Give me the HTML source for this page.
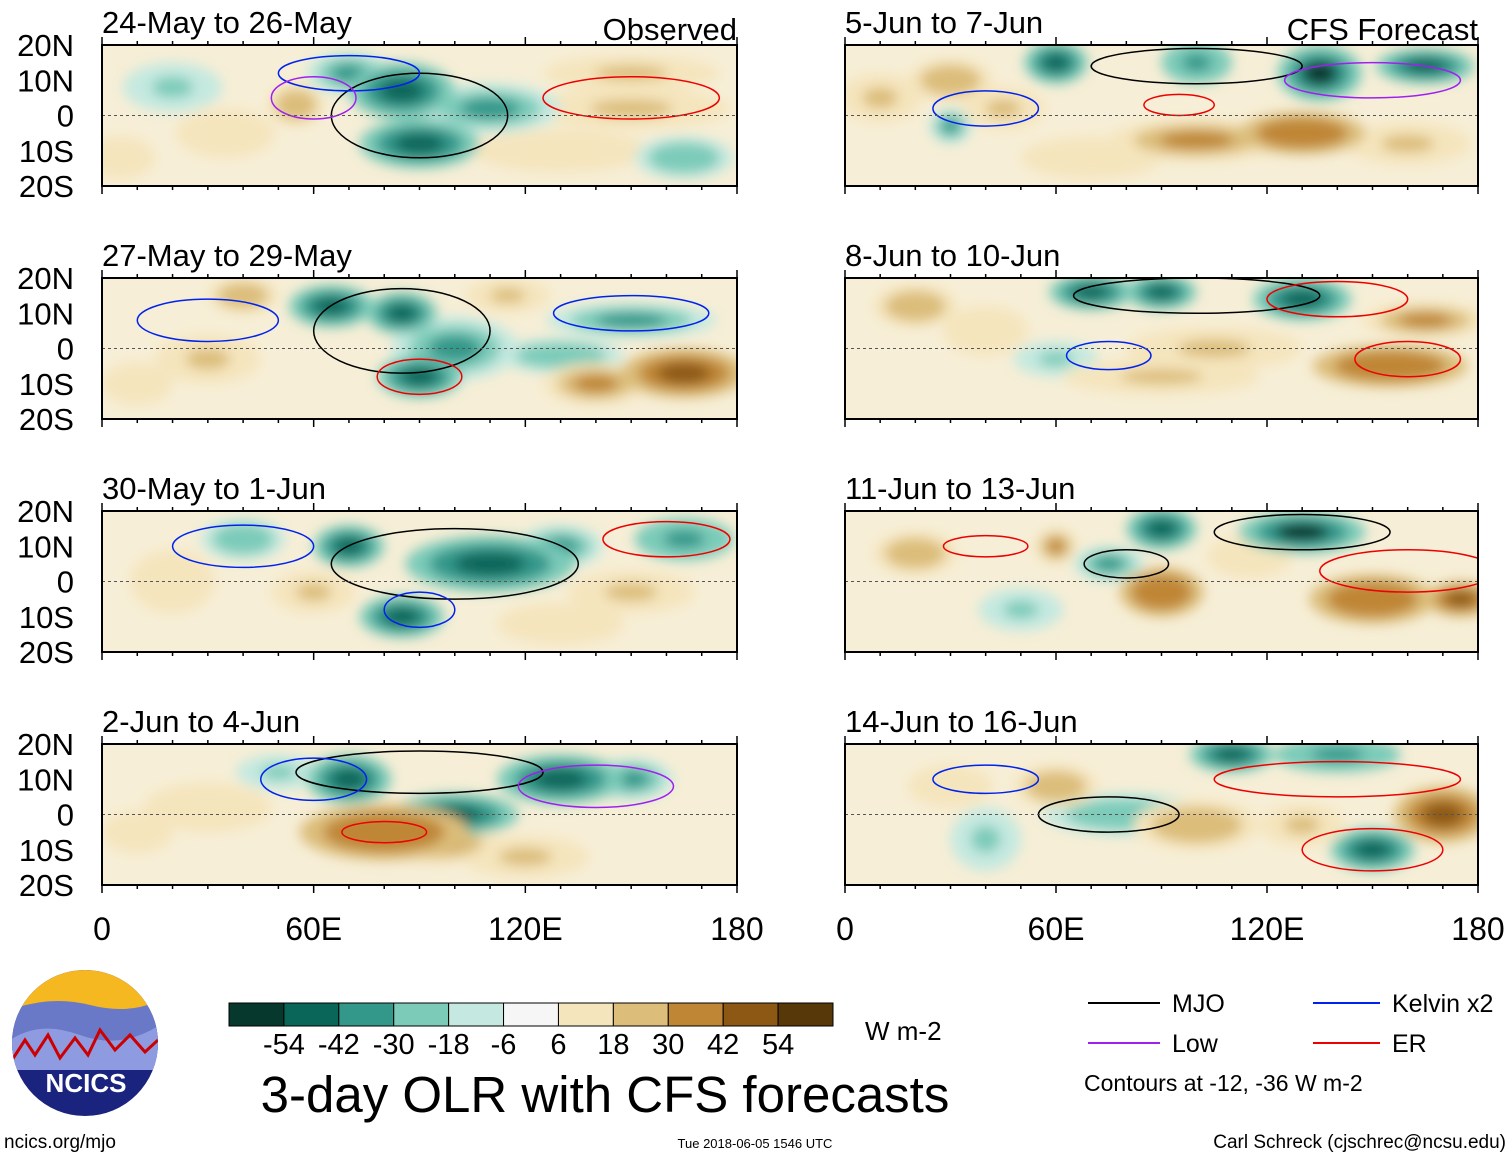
<!DOCTYPE html>
<html><head><meta charset="utf-8">
<style>
body{margin:0;background:#fff;width:1510px;height:1158px;overflow:hidden;font-family:"Liberation Sans",sans-serif}
svg{display:block}
</style></head>
<body>
<svg id="fig" width="1510" height="1158" font-family="Liberation Sans, sans-serif">
<defs><filter id="blur"><feGaussianBlur stdDeviation="6"/></filter>
<clipPath id="c0"><rect x="102" y="45" width="635" height="141"/></clipPath>
<clipPath id="c1"><rect x="845" y="45" width="633" height="141"/></clipPath>
<clipPath id="c2"><rect x="102" y="278" width="635" height="141"/></clipPath>
<clipPath id="c3"><rect x="845" y="278" width="633" height="141"/></clipPath>
<clipPath id="c4"><rect x="102" y="511" width="635" height="141"/></clipPath>
<clipPath id="c5"><rect x="845" y="511" width="633" height="141"/></clipPath>
<clipPath id="c6"><rect x="102" y="744" width="635" height="141"/></clipPath>
<clipPath id="c7"><rect x="845" y="744" width="633" height="141"/></clipPath>
</defs>
<g id="panels"></g>
<g id="cbar"></g>
<g id="legend" font-size="25">
<line x1="1088" y1="1003" x2="1160" y2="1003" stroke="#000" stroke-width="2"/>
<text x="1172" y="1012">MJO</text>
<line x1="1313" y1="1003" x2="1380" y2="1003" stroke="#0022ee" stroke-width="2"/>
<text x="1392" y="1012">Kelvin x2</text>
<line x1="1088" y1="1043" x2="1160" y2="1043" stroke="#a020f0" stroke-width="2"/>
<text x="1172" y="1052">Low</text>
<line x1="1313" y1="1043" x2="1380" y2="1043" stroke="#ee0000" stroke-width="2"/>
<text x="1392" y="1052">ER</text>
<text x="1084" y="1091" font-size="23">Contours at -12, -36 W m-2</text>
</g>
<g>
<clipPath id="lc"><circle cx="85" cy="1043" r="73"/></clipPath>
<g clip-path="url(#lc)">
<rect x="10" y="968" width="150" height="150" fill="#1a237e"/>
<rect x="10" y="968" width="150" height="45" fill="#f5b820"/>
<path d="M10 1010 Q50 995 90 1005 T160 1000 L160 1060 L10 1060Z" fill="#6a78c8"/>
<path d="M10 1040 Q40 1020 80 1035 T160 1025 L160 1070 L10 1070Z" fill="#8e9be0"/>
<path d="M12 1060 L25 1040 L35 1055 L48 1035 L60 1058 L75 1038 L88 1055 L100 1030 L115 1050 L130 1035 L145 1052 L158 1040" fill="none" stroke="#c00" stroke-width="3"/>
</g>
<text x="86" y="1092" text-anchor="middle" fill="#fff" font-size="26" font-weight="bold">NCICS</text>
</g>
<text x="4" y="1148" font-size="19">ncics.org/mjo</text>
<text x="755" y="1148" font-size="13" text-anchor="middle">Tue 2018-06-05 1546 UTC</text>
<text x="1506" y="1148" font-size="19" text-anchor="end">Carl Schreck (cjschrec@ncsu.edu)</text>
<text x="605" y="1112" font-size="51" text-anchor="middle">3-day OLR with CFS forecasts</text>
<text x="865" y="1040" font-size="26">W m-2</text>
</svg>
<script>
const titles=["24-May to 26-May","5-Jun to 7-Jun","27-May to 29-May","8-Jun to 10-Jun","30-May to 1-Jun","11-Jun to 13-Jun","2-Jun to 4-Jun","14-Jun to 16-Jun"];
const cbLevels=["-54","-42","-30","-18","-6","6","18","30","42","54"];
const cbColors=["#07382e","#0b665a","#33978a","#7ccbb9","#c5e9e0","#f6f6f6","#f5e5bd","#dcbd7a","#bf8636","#8c5813","#573808"];
const yTicks=["20N","10N","0","10S","20S"];
const yLats=[20,10,0,-10,-20];
const xTicks=["0","60E","120E","180"];
const xLons=[0,60,120,180];
// blobs: [lon, lat, olrAnomaly, lonRadius, latRadius]
const blobs0=[[85,7,-48,15,8],[90,-8,-50,17,7],[110,2,-35,20,7],[70,12,-30,12,6],[20,8,-20,14,7],[55,3,30,8,6],[150,12,25,25,5],[150,2,22,28,6],[130,-10,18,25,6],[165,-12,-25,14,6],[35,-5,18,14,7],[5,-12,15,10,6]];
const blobs1=[[60,15,-50,9,6],[100,15,-40,10,6],[135,12,-55,12,8],[165,14,-45,14,5],[30,10,28,12,6],[45,2,25,12,6],[100,-7,38,25,6],[130,-5,42,18,6],[30,-3,-32,6,5],[160,-8,25,18,6],[10,5,22,12,7],[70,-12,18,20,6]];
const blobs2=[[65,12,-48,12,6],[85,10,-42,10,6],[100,0,-38,18,9],[90,-8,-42,12,6],[150,8,-35,24,5],[130,-2,-25,18,5],[165,-7,50,18,7],[140,-10,35,15,6],[40,15,28,10,5],[30,-3,20,15,7],[115,15,24,12,5],[10,-10,15,10,6]];
const blobs3=[[70,16,-50,12,5],[90,16,-42,10,5],[130,14,-52,14,6],[155,-5,42,22,6],[165,8,32,18,5],[105,0,25,25,6],[20,12,28,12,6],[90,-8,25,28,5],[60,-3,-18,12,5],[40,5,15,12,7]];
const blobs4=[[70,10,-50,10,6],[110,5,-42,24,8],[85,-10,-48,12,6],[165,12,-40,14,6],[130,10,-30,12,6],[40,12,-25,12,6],[20,0,18,12,9],[60,-3,22,12,6],[150,-3,24,18,6],[130,-12,16,18,6]];
const blobs5=[[90,15,-48,10,6],[130,14,-55,18,6],[75,5,-30,10,5],[60,10,32,6,5],[90,-3,42,12,7],[150,-5,42,18,7],[175,-5,48,10,5],[20,8,28,12,6],[115,7,18,12,6],[50,-8,-18,12,6]];
const blobs6=[[70,10,-48,12,7],[130,10,-48,18,7],[100,0,-42,18,6],[80,-5,42,24,8],[95,-8,32,18,6],[30,2,18,18,7],[150,10,-35,12,6],[50,12,-20,12,5],[120,-12,22,18,6],[10,-5,15,10,6]];
const blobs7=[[110,17,-48,12,5],[140,17,-40,18,5],[80,0,-25,24,6],[150,-10,-42,12,6],[170,0,48,14,8],[100,-3,28,18,7],[60,8,28,12,6],[130,-3,22,12,6],[30,8,18,12,6],[40,-7,-20,10,9]];
const allBlobs=[blobs0,blobs1,blobs2,blobs3,blobs4,blobs5,blobs6,blobs7];
// contours: [lon, lat, lonRadius, latRadius, type]  type: 0 MJO,1 Kelvin,2 Low,3 ER
const cont0=[[90,0,25,12,0],[70,12,20,5,1],[150,5,25,6,3],[60,5,12,6,2]];
const cont1=[[100,14,30,5,0],[40,2,15,5,1],[150,10,25,5,2],[95,3,10,3,3]];
const cont2=[[85,5,25,12,0],[30,8,20,6,1],[150,10,22,5,1],[90,-8,12,5,3]];
const cont3=[[100,15,35,5,0],[75,-2,12,4,1],[160,-3,15,5,3],[140,14,20,5,3]];
const cont4=[[100,5,35,10,0],[40,10,20,6,1],[160,12,18,5,3],[90,-8,10,5,1]];
const cont5=[[130,14,25,5,0],[80,5,12,4,0],[160,3,25,6,3],[40,10,12,3,3]];
const cont6=[[90,12,35,6,0],[60,10,15,6,1],[140,8,22,6,2],[80,-5,12,3,3]];
const cont7=[[75,0,20,5,0],[40,10,15,4,1],[140,10,35,5,3],[150,-10,20,6,3]];
const allCont=[cont0,cont1,cont2,cont3,cont4,cont5,cont6,cont7];
const contColors=["#000","#0022ee","#a020f0","#ee0000"];
const NS="http://www.w3.org/2000/svg";
function mk(t,a,p){const e=document.createElementNS(NS,t);for(const k in a)e.setAttribute(k,a[k]);p.appendChild(e);return e;}
function colorFor(v){let i=0;const edges=[-54,-42,-30,-18,-6,6,18,30,42,54];while(i<edges.length&&v>edges[i])i++;return cbColors[i];}
const P=document.getElementById('panels');
for(let k=0;k<8;k++){
 const col=k%2,row=Math.floor(k/2);
 const x0=col?845:102,w=col?633:635,y0=45+row*233,h=141;
 const sx=lon=>x0+lon/180*w, sy=lat=>y0+(20-lat)/40*h;
 const g=mk('g',{},P);
 
 
 const cg=mk('g',{'clip-path':'url(#c'+k+')'},g);
 mk('rect',{x:x0,y:y0,width:w,height:h,fill:'#f6eed6'},cg);
 const bg=mk('g',{filter:'url(#blur)'},cg);
 allBlobs[k].slice().sort((a,b)=>Math.abs(a[2])-Math.abs(b[2])).forEach(b=>{
  [[1,0.45],[0.72,0.72],[0.42,1]].forEach(([f,s])=>{
   let v=b[2]*s; if(Math.abs(v)<7) v=7*Math.sign(b[2]);
   const e=mk('ellipse',{cx:sx(b[0]),cy:sy(b[1]),rx:b[3]/180*w*f,ry:b[4]/40*h*f,fill:colorFor(v)},bg);
   
   
  });
 });
 allCont[k].forEach(c=>{
  const e=mk('ellipse',{cx:sx(c[0]),cy:sy(c[1]),rx:c[2]/180*w,ry:c[3]/40*h,fill:'none',stroke:contColors[c[4]],'stroke-width':1.5},cg);
  
  
 });
 mk('line',{x1:x0,x2:x0+w,y1:sy(0),y2:sy(0),stroke:'#555','stroke-dasharray':'3,3'},cg);
 mk('rect',{x:x0,y:y0,width:w,height:h,fill:'none',stroke:'#000','stroke-width':2},g);
 for(let lon=0;lon<=180;lon+=10){const L=lon%60?4:8;mk('line',{x1:sx(lon),x2:sx(lon),y1:y0,y2:y0-L,stroke:'#000','stroke-width':1.5},g);mk('line',{x1:sx(lon),x2:sx(lon),y1:y0+h,y2:y0+h+L,stroke:'#000','stroke-width':1.5},g);}
 const t=mk('text',{x:x0,y:y0-12,'font-size':31},g);t.textContent=titles[k];
 
 
 if(k<2){const s=mk('text',{x:x0+w,y:y0-5,'font-size':31,'text-anchor':'end'},g);s.textContent=k?'CFS Forecast':'Observed';
 
 }
 if(!col){yTicks.forEach((l,i)=>{const tt=mk('text',{x:74,y:sy(yLats[i])+11,'font-size':31,'text-anchor':'end'},g);tt.textContent=l;
 
 });}
 if(row==3){xTicks.forEach((l,i)=>{const tt=mk('text',{x:sx(xLons[i]),y:940,'font-size':32,'text-anchor':'middle'},g);tt.textContent=l;
 
 });}
}
const C=document.getElementById('cbar');


const cw=604/cbColors.length;
cbColors.forEach((c,i)=>{const r=mk('rect',{x:229+i*cw,y:1003,width:cw,height:23,fill:c,stroke:'#000','stroke-width':1},C);

});
cbLevels.forEach((l,i)=>{const t=mk('text',{x:229+(i+1)*cw,y:1054,'font-size':29,'text-anchor':'middle'},C);t.textContent=l;

});
</script>
</body></html>
